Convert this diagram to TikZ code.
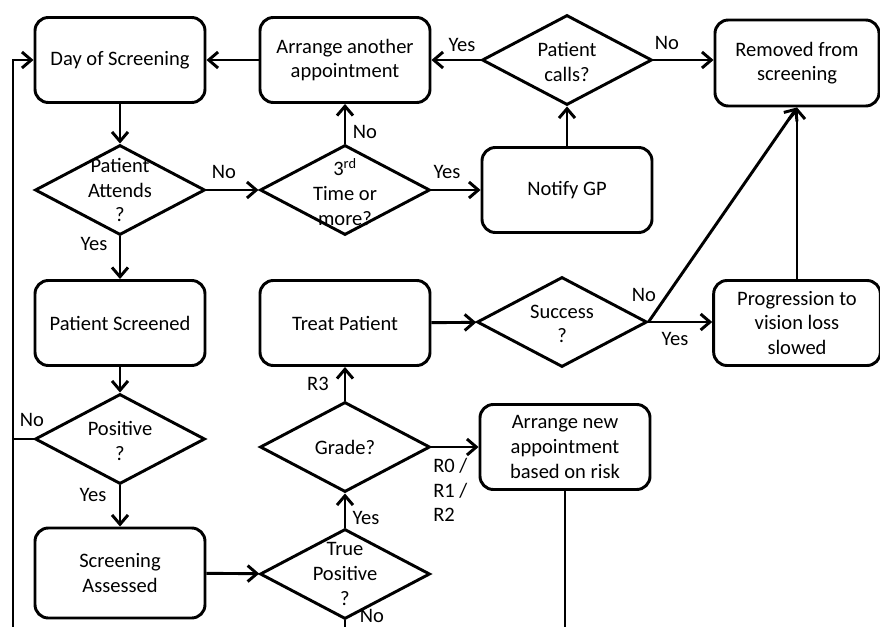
\documentclass[tikz,border=0pt]{standalone}
\usepackage{fontspec}
\setmainfont{Carlito}
\usepackage{tikz}
\usetikzlibrary{shapes.geometric}
\usetikzlibrary{arrows.meta}

\begin{document}
\begin{tikzpicture}[x=0.75pt,y=0.75pt,yscale=-1,xscale=1,
  every node/.style={font=\fontsize{15.4}{18.5}\selectfont},
  box/.style={draw, line width=2.2pt, rounded corners=10pt, minimum width=127.5pt, minimum height=63.75pt, align=center, inner sep=0.75pt},
  dia/.style={draw, line width=2.2pt, diamond, minimum width=127.5pt, minimum height=67.5pt, inner sep=0pt},
  txt/.style={align=center, inner sep=0.75pt},
  flow/.style={line width=2.2pt, -{Straight Barb[length=7pt,width=12pt]}},
  plain/.style={line width=2.2pt}]
\useasboundingbox (0,0) rectangle (880,627);
% Boxes
\node[box] (day) at (120,60) {Day of Screening};
\node[box] (again) at (345,60) {Arrange another\\appointment};
\node[box, minimum width=123pt, minimum height=64.5pt] (removed) at (797,63) {Removed from\\screening};
\node[box] (gp) at (567,190) {Notify GP};
\node[box] (screened) at (120,323) {Patient Screened};
\node[box] (treat) at (345,323) {Treat Patient};
\node[box, minimum width=125pt] (slowed) at (797,323) {Progression to\\vision loss\\slowed};
\node[box] (newappt) at (565,447) {Arrange new\\appointment\\based on risk};
\node[box, minimum height=67.5pt] (assessed) at (120,573) {Screening\\Assessed};
% Diamonds
\node[dia] (calls) at (567,60) {};
\node[dia] (attends) at (120,190) {};
\node[dia] (third) at (345,190) {};
\node[dia] (success) at (562,322) {};
\node[dia] (positive) at (120,439) {};
\node[dia] (grade) at (345,447) {};
\node[dia] (truepos) at (345,574) {};
% Text Node
\node[txt] (callst) at (567,62) {Patient\\calls?};
\node[txt] (attendst) at (120,190) {Patient\\Attends\\?};
\node[txt] (thirdt) at (345,192) {3\textsuperscript{rd}\\Time or\\more?};
\node[txt] (successt) at (562,324) {Success\\?};
\node[txt] (positivet) at (120,441) {Positive\\?};
\node[txt] (gradet) at (345,447) {Grade?};
\node[txt] (truepost) at (345,574) {True\\Positive\\?};
% Free ends
\coordinate (lt) at (13,60);
\coordinate (lp) at (13,439);
\coordinate (lb) at (13,627);
\coordinate (tb) at (345,627);
\coordinate (nb) at (565,627);
% Connectors
\draw[flow] (day) -- (attends);
\draw[flow] (attends) -- (third);
\draw[flow] (third) -- (again);
\draw[flow] (third) -- (gp);
\draw[flow] (gp) -- (calls);
\draw[flow] (calls) -- (again);
\draw[flow] (calls.east) -- (calls.east -| removed.west);
\draw[flow] (again) -- (day);
\draw[flow] (attends) -- (screened);
\draw[flow] (screened) -- (positive);
\draw[flow] (positive) -- (assessed);
\draw[plain] (positive.west) -- (lp);
\draw[flow] (lb) -- (lt) -- (day.west);
\draw[flow] (assessed) -- (truepos);
\draw[flow] (truepos) -- (grade);
\draw[plain] (truepos.south) -- (tb);
\draw[flow] (grade) -- (treat);
\draw[flow] (grade) -- (newappt);
\draw[plain] (newappt.south) -- (nb);
\draw[flow] (treat) -- (success);
\draw[flow] (success.east) -- (success.east -| slowed.west);
\draw[flow] (success.east) -- (removed.south);
\draw[flow] (slowed) -- (removed);
% Labels
\node (l1) at (224,172) {No};
\node (l2) at (365,132) {No};
\node (l3) at (447,172) {Yes};
\node (l4) at (462,45) {Yes};
\node (l5) at (667,43) {No};
\node (l6) at (94,244) {Yes};
\node (l7) at (32,420) {No};
\node (l8) at (93,495) {Yes};
\node (l9) at (318,384) {R3};
\node (l10) at (366,518) {Yes};
\node (l11) at (372,616) {No};
\node[align=left, anchor=west, inner sep=0pt] (l12) at (433,490) {R0 /\\R1 /\\R2};
\node (l13) at (644,295) {No};
\node (l14) at (675,339) {Yes};
\end{tikzpicture}
\end{document}
